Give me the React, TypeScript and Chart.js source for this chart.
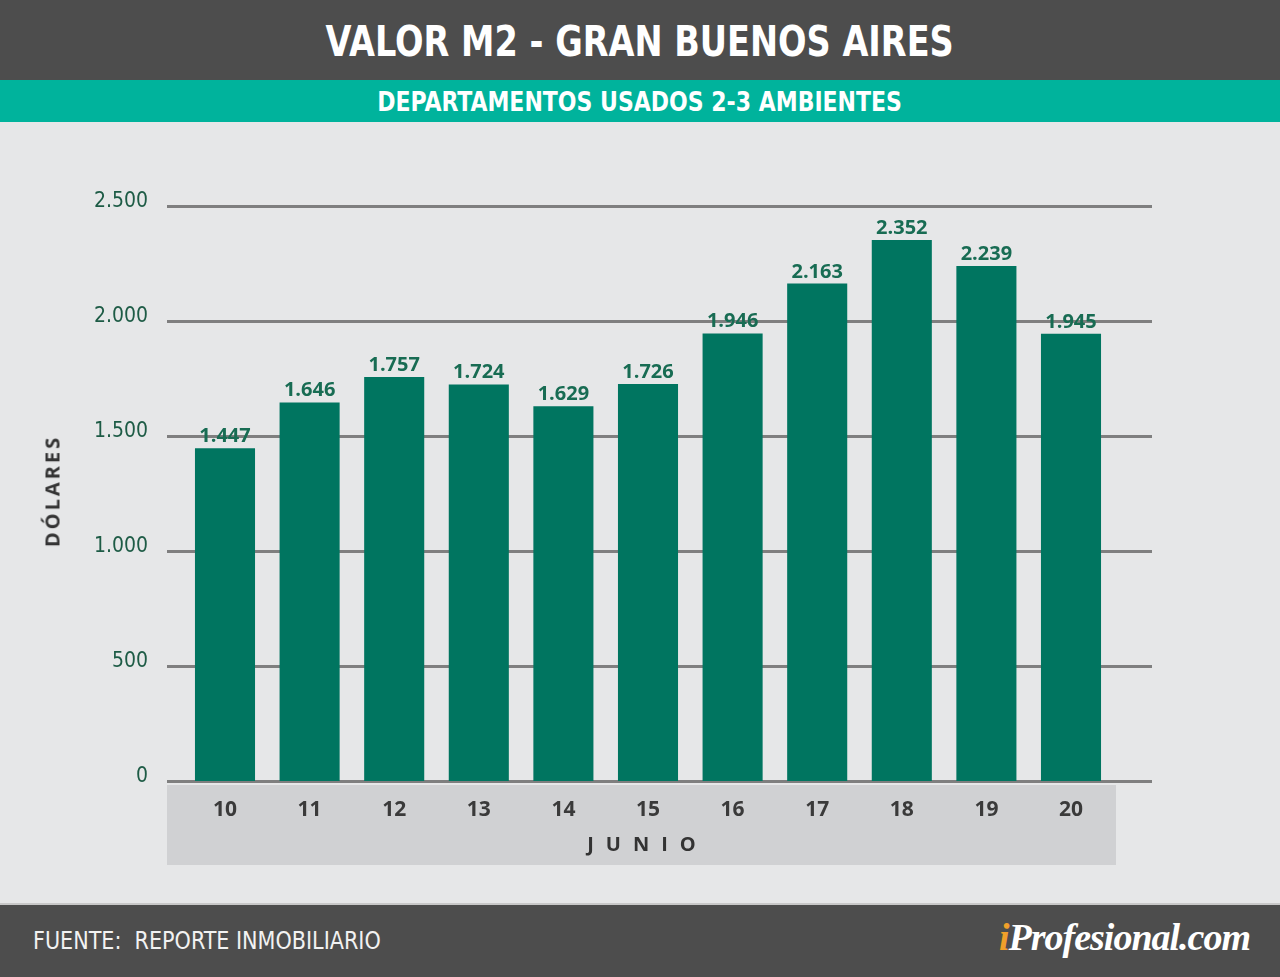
import { useEffect, useRef } from 'react';
import { Chart, registerables } from 'chart.js';

Chart.register(...registerables);

// June days (x axis) and m2 value in dollars
const days = ['10', '11', '12', '13', '14', '15', '16', '17', '18', '19', '20'];
const values = [1447, 1646, 1757, 1724, 1629, 1726, 1946, 2163, 2352, 2239, 1945];
const yTicks = [0, 500, 1000, 1500, 2000, 2500];

const fmt = (v: number) => String(v).replace(/\B(?=(\d{3})+(?!\d))/g, '.');

const BAR = '#007560';
const LABEL = '#186c53';
const TICK = '#1d5b45';
const NARROW = '"DejaVu Sans Condensed", "DejaVu Sans", sans-serif';
const SANS = '"Open Sans", "Noto Sans", sans-serif';

const ValorChart = () => {
  const canvasRef = useRef<HTMLCanvasElement>(null);
  const chartRef = useRef<Chart | null>(null);

  useEffect(() => {
    if (!canvasRef.current) return;
    const ctx = canvasRef.current.getContext('2d');
    if (!ctx) return;

    if (chartRef.current) chartRef.current.destroy();

    // gray band behind the day labels
    const band = {
      id: 'band',
      beforeDraw(chart: any) {
        const { ctx, chartArea } = chart;
        ctx.save();
        ctx.fillStyle = '#d0d1d3';
        ctx.fillRect(chartArea.left - 15.7, chartArea.bottom + 4, 949, 80);
        ctx.restore();
      },
    };

    // horizontal grid lines, wider than the bar area
    const gridLines = {
      id: 'gridLines',
      beforeDatasetsDraw(chart: any) {
        const { ctx, chartArea, scales } = chart;
        ctx.save();
        ctx.strokeStyle = '#7f7f7f';
        ctx.lineWidth = 3;
        yTicks.forEach((t) => {
          const y = Math.round(scales.y.getPixelForValue(t)) + 0.5;
          ctx.beginPath();
          ctx.moveTo(chartArea.left - 15.7, y);
          ctx.lineTo(chartArea.right + 38.7, y);
          ctx.stroke();
        });
        ctx.restore();
      },
    };

    const valueLabels = {
      id: 'valueLabels',
      afterDatasetsDraw(chart: any) {
        const { ctx } = chart;
        const meta = chart.getDatasetMeta(0);
        ctx.save();
        ctx.fillStyle = LABEL;
        ctx.font = `bold 20px ${SANS}`;
        ctx.textAlign = 'center';
        ctx.textBaseline = 'alphabetic';
        meta.data.forEach((bar: any, i: number) => {
          ctx.fillText(fmt(values[i]), bar.x, bar.y - 6);
        });
        ctx.restore();
      },
    };

    chartRef.current = new Chart(ctx, {
      type: 'bar',
      data: {
        labels: days,
        datasets: [
          {
            data: values,
            backgroundColor: BAR,
            borderWidth: 0,
            categoryPercentage: 1,
            barPercentage: 0.71,
          },
        ],
      },
      options: {
        responsive: false,
        animation: false,
        layout: { padding: { top: 84, right: 166.7, left: 0, bottom: 0 } },
        plugins: {
          legend: { display: false },
          tooltip: { enabled: false },
        },
        scales: {
          x: {
            grid: { display: false, drawTicks: false },
            border: { display: false },
            afterFit: (s: any) => {
              s.height = 122;
            },
            ticks: {
              padding: 16,
              color: '#3a3a3a',
              font: { family: SANS, size: 21, weight: 'bold' },
            },
          },
          y: {
            min: 0,
            max: 2500,
            grid: { display: false, drawTicks: false },
            border: { display: false },
            afterFit: (s: any) => {
              s.width = 182.7;
            },
            afterBuildTicks: (s: any) => {
              s.ticks = yTicks.map((v) => ({ value: v }));
            },
            ticks: {
              padding: 34.7,
              labelOffset: -4,
              color: TICK,
              font: { family: NARROW, size: 21 },
              callback: (v: any) => fmt(Number(v)),
            },
          },
        },
      },
      plugins: [band, gridLines, valueLabels],
    });

    return () => {
      if (chartRef.current) chartRef.current.destroy();
    };
  }, []);

  return <canvas ref={canvasRef} width={1280} height={781} style={{ display: 'block' }} />;
};

const squeeze = (sx: number): React.CSSProperties => ({
  display: 'inline-block',
  transform: `scaleX(${sx})`,
  whiteSpace: 'nowrap',
});

export default function App() {
  return (
    <div
      style={{
        position: 'absolute',
        left: 0,
        top: 0,
        width: 1280,
        height: 977,
        background: '#e6e7e8',
        overflow: 'hidden',
      }}
    >
      <div
        style={{
          height: 80,
          background: '#4d4d4d',
          color: '#fff',
          fontFamily: NARROW,
          fontWeight: 'bold',
          fontSize: 42,
          lineHeight: '84px',
          textAlign: 'center',
        }}
      >
        <span style={squeeze(0.888)}>VALOR M2 - GRAN BUENOS AIRES</span>
      </div>
      <div
        style={{
          height: 42,
          background: '#00b39c',
          color: '#fff',
          fontFamily: NARROW,
          fontWeight: 'bold',
          fontSize: 27,
          lineHeight: '44px',
          textAlign: 'center',
        }}
      >
        <span style={squeeze(0.906)}>DEPARTAMENTOS USADOS 2-3 AMBIENTES</span>
      </div>
      <div style={{ position: 'relative', height: 781 }}>
        <ValorChart />
        <div
          style={{
            position: 'absolute',
            left: 52,
            top: 369,
            transform: 'translate(-50%, -50%) rotate(-90deg)',
            fontFamily: SANS,
            fontWeight: 'bold',
            fontSize: 20,
            letterSpacing: 3,
            color: '#333',
            whiteSpace: 'nowrap',
          }}
        >
          DÓLARES
        </div>
        <div
          style={{
            position: 'absolute',
            left: 167,
            width: 949,
            top: 708,
            textAlign: 'center',
            fontFamily: SANS,
            fontWeight: 'bold',
            fontSize: 20,
            letterSpacing: 12,
            color: '#333',
            paddingLeft: 12,
            boxSizing: 'border-box',
          }}
        >
          JUNIO
        </div>
      </div>
      <div
        style={{
          position: 'absolute',
          left: 0,
          top: 903,
          width: 1280,
          height: 74,
          background: '#4d4d4d',
          borderTop: '2px solid #c8c8c8',
          boxSizing: 'border-box',
        }}
      >
        <div
          style={{
            position: 'absolute',
            left: 33,
            top: 22,
            fontFamily: NARROW,
            fontSize: 24,
            color: '#f2f2f2',
            transformOrigin: 'left center',
            ...squeeze(0.96),
            whiteSpace: 'pre',
          }}
        >
          FUENTE:  REPORTE INMOBILIARIO
        </div>
        <div
          style={{
            position: 'absolute',
            right: 30,
            top: 10,
            fontFamily: '"Liberation Serif", "DejaVu Serif", serif',
            fontStyle: 'italic',
            fontWeight: 'bold',
            fontSize: 38,
            color: '#fff',
            letterSpacing: -1,
          }}
        >
          <span style={{ color: '#f0a02a' }}>i</span>Profesional.com
        </div>
      </div>
    </div>
  );
}
